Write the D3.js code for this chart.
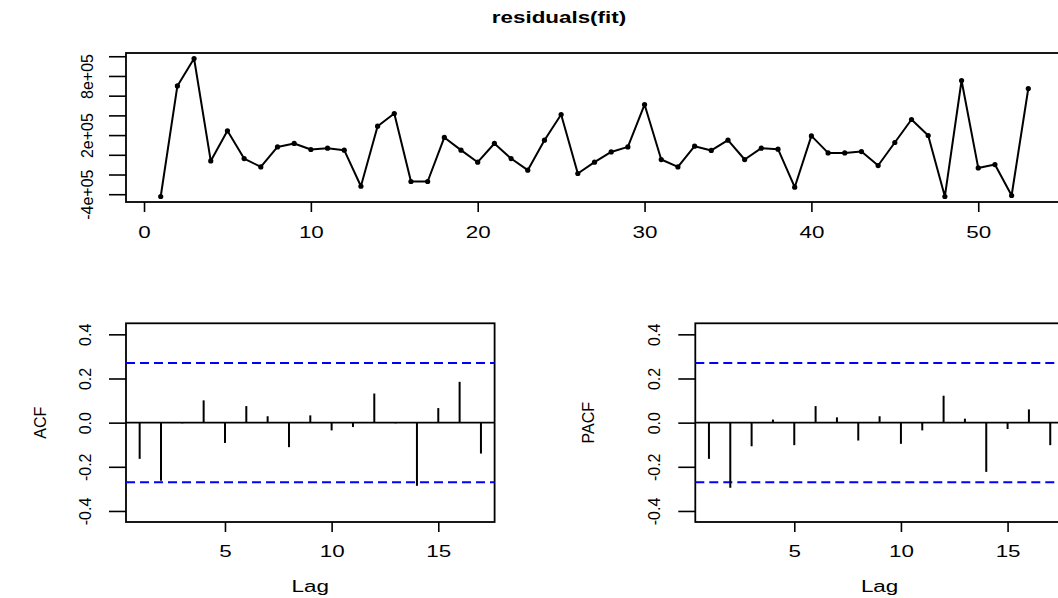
<!DOCTYPE html>
<html>
<head>
<meta charset="utf-8">
<script src="https://cdn.jsdelivr.net/npm/d3@7"></script>
<style>
    body { margin: 0; background: #fff; }
    svg { display: block; }
    text { font-family: "Liberation Sans", Arial, sans-serif; fill: #000; }
</style>
</head>
<body>
<div id="chart"></div>
<script>
// residuals(fit), one value per time index 1..53
const timeIndex = [1, 2, 3, 4, 5, 6, 7, 8, 9, 10, 11, 12, 13, 14, 15, 16, 17, 18, 19, 20, 21, 22, 23, 24, 25, 26, 27,
    28, 29, 30, 31, 32, 33, 34, 35, 36, 37, 38, 39, 40, 41, 42, 43, 44, 45, 46, 47, 48, 49, 50, 51, 52, 53];
const residuals = [-423000, 699000, 977000, -62000, 243000, -38000, -123000, 80000, 115000, 54000, 67000, 47000,
    -319000, 290000, 419000, -271000, -271000, 176000, 47000, -75000, 115000, -38000, -156000, 148000, 409000,
    -190000, -75000, 29000, 80000, 510000, -48000, -123000, 87000, 44000, 148000, -48000, 67000, 57000, -329000,
    192000, 19000, 19000, 33000, -109000, 125000, 358000, 196000, -423000, 754000, -133000, -99000, -413000, 673000];

const lags = [1, 2, 3, 4, 5, 6, 7, 8, 9, 10, 11, 12, 13, 14, 15, 16, 17];
const acfValues = [-0.164, -0.263, -0.003, 0.101, -0.092, 0.075, 0.029, -0.111, 0.033, -0.035, -0.020, 0.132,
    -0.003, -0.286, 0.066, 0.185, -0.140];
const pacfValues = [-0.164, -0.295, -0.107, 0.014, -0.102, 0.075, 0.024, -0.081, 0.029, -0.096, -0.035, 0.122,
    0.018, -0.223, -0.029, 0.060, -0.102];
const ciBound = 0.27;

const timeTicks = [0, 10, 20, 30, 40, 50];
const residTicks = [-400000, -200000, 0, 200000, 400000, 600000, 800000, 1000000];
const residLabels = ["-4e+05", "", "", "2e+05", "", "", "8e+05", ""];
const lagTicks = [5, 10, 15];
const corrTicks = [-0.4, -0.2, 0, 0.2, 0.4];
const corrLabels = ["-0.4", "-0.2", "0.0", "0.2", "0.4"];

const W = 1058, H = 598,
    stretch = 1.4,          // le rendu d'origine est étiré horizontalement
    fontSize = 16,
    yTick = 17, xTick = 10;

const svg = d3.select("#chart").append("svg")
    .attr("width", W)
    .attr("height", H);

// Helpers to position tick labels the way R does
function bottomLabels(g, dist) {
    g.selectAll(".tick text")
        .attr("y", null).attr("dy", null)
        .attr("transform", "translate(0," + dist + ") scale(" + stretch + ",1)")
        .style("font-size", fontSize + "px");
}

function leftLabels(g, dist, labels) {
    g.selectAll(".tick text")
        .attr("x", null).attr("dy", null)
        .attr("text-anchor", "middle")
        .attr("transform", "translate(" + (-dist) + ",0) rotate(-90)")
        .style("font-size", fontSize + "px")
        .text((d, i) => labels[i]);
}

function cleanAxis(g) {
    g.select(".domain").remove();
    g.selectAll(".tick line").attr("stroke", "#000").attr("stroke-width", 1.6);
}

// ---------- Top panel: residual time series ----------
const tsBox = {left: 126, right: 1063, top: 53, bottom: 202};

const xTime = d3.scaleLinear().domain([-1.08, 55.08]).range([tsBox.left, tsBox.right]);
const yRes = d3.scaleLinear().domain([-479000, 1033000]).range([tsBox.bottom, tsBox.top]);

svg.append("g")
    .attr("transform", "translate(0," + tsBox.bottom + ")")
    .call(d3.axisBottom(xTime).tickValues(timeTicks).tickSize(xTick).tickFormat(d3.format("d")))
    .call(cleanAxis)
    .call(g => bottomLabels(g, 36));

svg.append("g")
    .attr("transform", "translate(" + tsBox.left + ",0)")
    .call(d3.axisLeft(yRes).tickValues(residTicks).tickSize(yTick))
    .call(cleanAxis)
    .call(g => leftLabels(g, 33, residLabels));

svg.append("rect")
    .attr("x", tsBox.left).attr("y", tsBox.top)
    .attr("width", tsBox.right - tsBox.left).attr("height", tsBox.bottom - tsBox.top)
    .style("fill", "none").style("stroke", "#000").style("stroke-width", 1.8);

const line = d3.line()
    .x((d, i) => xTime(timeIndex[i]))
    .y(d => yRes(d));

svg.append("path")
    .datum(residuals)
    .attr("d", line)
    .style("fill", "none")
    .style("stroke", "#000")
    .style("stroke-width", 2)
    .style("stroke-linejoin", "round");

svg.selectAll("circle.pt")
    .data(residuals)
    .enter().append("circle")
    .attr("class", "pt")
    .attr("cx", (d, i) => xTime(timeIndex[i]))
    .attr("cy", d => yRes(d))
    .attr("r", 2.6)
    .style("fill", "#000");

svg.append("text")
    .attr("transform", "translate(559,23) scale(" + stretch + ",1)")
    .attr("text-anchor", "middle")
    .style("font-size", fontSize + "px")
    .style("font-weight", "bold")
    .text("residuals(fit)");

// ---------- Bottom panels: ACF / PACF ----------
function corrPanel(box, values, label, labelX) {
    const x = d3.scaleLinear().domain([0.36, 17.64]).range([box.left, box.right]);
    const y = d3.scaleLinear().domain([-0.45, 0.45]).range([box.bottom, box.top]);

    svg.append("g")
        .attr("transform", "translate(0," + box.bottom + ")")
        .call(d3.axisBottom(x).tickValues(lagTicks).tickSize(xTick).tickFormat(d3.format("d")))
        .call(cleanAxis)
        .call(g => bottomLabels(g, 35));

    svg.append("g")
        .attr("transform", "translate(" + box.left + ",0)")
        .call(d3.axisLeft(y).tickValues(corrTicks).tickSize(yTick))
        .call(cleanAxis)
        .call(g => leftLabels(g, 35, corrLabels));

    svg.append("rect")
        .attr("x", box.left).attr("y", box.top)
        .attr("width", box.right - box.left).attr("height", box.bottom - box.top)
        .style("fill", "none").style("stroke", "#000").style("stroke-width", 1.8);

    // zero line
    svg.append("line")
        .attr("x1", box.left).attr("x2", box.right)
        .attr("y1", y(0)).attr("y2", y(0))
        .style("stroke", "#000").style("stroke-width", 1.6);

    // confidence bounds
    [ciBound, -ciBound].forEach(b => {
        svg.append("line")
            .attr("x1", box.left).attr("x2", box.right)
            .attr("y1", y(b)).attr("y2", y(b))
            .style("stroke", "#0000ff")
            .style("stroke-width", 2)
            .style("stroke-dasharray", "9,5");
    });

    svg.selectAll(null)
        .data(values)
        .enter().append("line")
        .attr("x1", (d, i) => x(lags[i]))
        .attr("x2", (d, i) => x(lags[i]))
        .attr("y1", y(0))
        .attr("y2", d => y(d))
        .style("stroke", "#000")
        .style("stroke-width", 2);

    svg.append("text")
        .attr("transform", "translate(" + ((box.left + box.right) / 2) + ",592) scale(" + stretch + ",1)")
        .attr("text-anchor", "middle")
        .style("font-size", fontSize + "px")
        .text("Lag");

    svg.append("text")
        .attr("transform", "translate(" + labelX + "," + ((box.top + box.bottom) / 2) + ") rotate(-90)")
        .attr("text-anchor", "middle")
        .style("font-size", fontSize + "px")
        .text(label);
}

corrPanel({left: 126, right: 494.6, top: 323.3, bottom: 522}, acfValues, "ACF", 46);
corrPanel({left: 695.3, right: 1063.9, top: 323.3, bottom: 522}, pacfValues, "PACF", 594);
</script>
</body>
</html>
